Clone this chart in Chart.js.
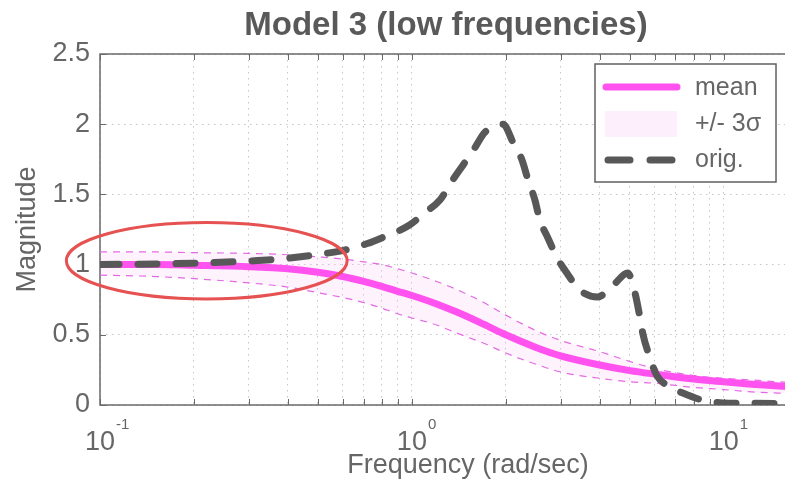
<!DOCTYPE html>
<html>
<head>
<meta charset="utf-8">
<title>Model 3 (low frequencies)</title>
<script src="https://cdn.jsdelivr.net/npm/chart.js@4.4.0/dist/chart.umd.min.js"></script>
<style>
  html, body { margin: 0; padding: 0; background: #fff; overflow: hidden; }
  #wrap { width: 892px; height: 482px; }
</style>
</head>
<body>
<div id="wrap"><canvas id="magChart" width="892" height="482"></canvas></div>
<script>
// Frequency grid for the identified model (rad/sec)
const bandFreq = [0.1, 0.15, 0.2, 0.3, 0.4, 0.5, 0.6, 0.7, 0.8, 0.9, 1.0, 1.2, 1.4, 1.7, 2.0, 2.5, 3.0, 4.0, 5.0, 6.0, 8.0, 10, 12, 15, 20, 23];
const meanMag  = [1.00, 1.00, 0.995, 0.985, 0.97, 0.945, 0.915, 0.88, 0.845, 0.81, 0.78, 0.72, 0.66, 0.575, 0.50, 0.41, 0.35, 0.285, 0.245, 0.22, 0.185, 0.165, 0.15, 0.135, 0.12, 0.115];
const upperMag = [1.09, 1.09, 1.085, 1.08, 1.07, 1.055, 1.04, 1.02, 1.0, 0.97, 0.94, 0.88, 0.82, 0.73, 0.64, 0.53, 0.46, 0.38, 0.31, 0.26, 0.21, 0.19, 0.18, 0.165, 0.15, 0.145];
const lowerMag = [0.925, 0.915, 0.90, 0.87, 0.84, 0.80, 0.765, 0.73, 0.69, 0.65, 0.62, 0.57, 0.51, 0.44, 0.37, 0.29, 0.235, 0.19, 0.165, 0.155, 0.125, 0.11, 0.095, 0.085, 0.075, 0.07];

// Original system response
const origFreq = [0.1, 0.2, 0.3, 0.38, 0.49, 0.6, 0.72, 0.8, 0.98, 1.1, 1.23, 1.34, 1.46, 1.59, 1.71, 1.85, 1.96, 2.11, 2.25, 2.36, 2.48, 2.57, 2.73, 2.92, 3.14, 3.45, 3.94, 4.41, 4.92, 5.19, 5.38, 5.5, 5.79, 6.1, 6.71, 7.39, 8.38, 9.93, 12, 23];
const origMag  = [1.0, 1.01, 1.025, 1.04, 1.07, 1.10, 1.15, 1.19, 1.28, 1.37, 1.46, 1.59, 1.71, 1.83, 1.94, 1.98, 2.0, 1.87, 1.75, 1.60, 1.46, 1.32, 1.19, 1.05, 0.94, 0.82, 0.77, 0.85, 0.94, 0.80, 0.63, 0.51, 0.34, 0.21, 0.13, 0.085, 0.04, 0.015, 0.012, 0.01];

const yTicks = [0, 0.5, 1, 1.5, 2, 2.5];
const decadeExps = [-1, 0, 1];
const legendLabels = ['mean', '+/- 3\u03c3', 'orig.'];

// low-frequency region circled on the plot (freq range, magnitude range)
const circleFreq = [0.078, 0.62];
const circleMag = [0.755, 1.30];

const FONT = "'Liberation Sans', Arial, Helvetica, sans-serif";
const TEXT = '#666666';

function pts(xs, ys) {
    return xs.map((x, i) => ({ x: x, y: ys[i] }));
}

// box around the plot area + inward tick marks
const framePlugin = {
    id: 'frame',
    beforeDatasetsDraw(chart) {
        const { ctx, chartArea: a, scales } = chart;
        ctx.save();
        ctx.strokeStyle = '#6a6a6a';
        ctx.lineWidth = 1.5;
        ctx.strokeRect(a.left, a.top, a.right - a.left, a.bottom - a.top);
        ctx.lineWidth = 1;
        ctx.beginPath();
        scales.x.ticks.forEach(t => {
            const x = Math.round(scales.x.getPixelForValue(t.value)) + 0.5;
            ctx.moveTo(x, a.bottom); ctx.lineTo(x, a.bottom - 6);
            ctx.moveTo(x, a.top); ctx.lineTo(x, a.top + 6);
        });
        yTicks.forEach(v => {
            const y = Math.round(scales.y.getPixelForValue(v)) + 0.5;
            ctx.moveTo(a.left, y); ctx.lineTo(a.left + 6, y);
            ctx.moveTo(a.right, y); ctx.lineTo(a.right - 6, y);
        });
        ctx.stroke();
        ctx.restore();
    }
};

// 10^n labels for the log axis
const decadeLabels = {
    id: 'decadeLabels',
    afterDraw(chart) {
        const { ctx, scales } = chart;
        ctx.save();
        ctx.fillStyle = TEXT;
        ctx.textBaseline = 'alphabetic';
        ctx.textAlign = 'left';
        decadeExps.forEach(e => {
            const x = scales.x.getPixelForValue(Math.pow(10, e));
            ctx.font = '27px ' + FONT;
            const w = ctx.measureText('10').width;
            ctx.fillText('10', x - w / 2, 450);
            ctx.font = '15px ' + FONT;
            ctx.fillText(String(e), x + w / 2 + 1, 429);
        });
        ctx.restore();
    }
};

// red ellipse highlighting the low-frequency match
const highlight = {
    id: 'highlight',
    afterDatasetsDraw(chart) {
        const { ctx, scales } = chart;
        const x0 = scales.x.getPixelForValue(circleFreq[0]);
        const x1 = scales.x.getPixelForValue(circleFreq[1]);
        const y0 = scales.y.getPixelForValue(circleMag[1]);
        const y1 = scales.y.getPixelForValue(circleMag[0]);
        ctx.save();
        ctx.strokeStyle = '#e65252';
        ctx.lineWidth = 3;
        ctx.beginPath();
        ctx.ellipse((x0 + x1) / 2, (y0 + y1) / 2, (x1 - x0) / 2, (y1 - y0) / 2, 0, 0, Math.PI * 2);
        ctx.stroke();
        ctx.restore();
    }
};

// boxed legend in the upper right corner of the plot
const boxLegend = {
    id: 'boxLegend',
    afterDraw(chart) {
        const { ctx, chartArea: a } = chart;
        const ds = chart.data.datasets;
        const left = a.left + 495, top = a.top + 10, w = 181, h = 118;
        ctx.save();
        ctx.fillStyle = '#ffffff';
        ctx.fillRect(left, top, w, h);
        ctx.strokeStyle = '#606060';
        ctx.lineWidth = 1.5;
        ctx.strokeRect(left, top, w, h);

        ctx.lineCap = 'round';
        ctx.lineWidth = 7;
        // mean
        ctx.strokeStyle = ds[1].borderColor;
        ctx.beginPath(); ctx.moveTo(left + 11, top + 23); ctx.lineTo(left + 82, top + 23); ctx.stroke();
        // band
        ctx.fillStyle = '#fdf0fc';
        ctx.fillRect(left + 10, top + 47, 72, 26);
        // orig: two dashes
        ctx.strokeStyle = ds[0].borderColor;
        ctx.beginPath();
        ctx.moveTo(left + 13, top + 96); ctx.lineTo(left + 35, top + 96);
        ctx.moveTo(left + 55, top + 96); ctx.lineTo(left + 77, top + 96);
        ctx.stroke();

        ctx.fillStyle = TEXT;
        ctx.font = '25px ' + FONT;
        ctx.textAlign = 'left';
        ctx.textBaseline = 'middle';
        legendLabels.forEach((t, i) => ctx.fillText(t, left + 100, top + 24 + i * 36));
        ctx.restore();
    }
};

const ctx = document.getElementById('magChart').getContext('2d');
new Chart(ctx, {
    type: 'line',
    data: {
        datasets: [
            {
                label: 'orig.',
                data: pts(origFreq, origMag),
                borderColor: '#585858',
                borderWidth: 7,
                borderDash: [19, 19],
                borderCapStyle: 'round',
                cubicInterpolationMode: 'monotone',
                pointRadius: 0,
                fill: false
            },
            {
                label: 'mean',
                data: pts(bandFreq, meanMag),
                borderColor: '#ff52ef',
                borderWidth: 7,
                cubicInterpolationMode: 'monotone',
                pointRadius: 0,
                fill: false
            },
            {
                label: '+3 sigma',
                data: pts(bandFreq, upperMag),
                borderColor: '#e36ae3',
                borderWidth: 1.2,
                borderDash: [7, 6],
                cubicInterpolationMode: 'monotone',
                pointRadius: 0,
                backgroundColor: 'rgba(248, 190, 245, 0.2)',
                fill: '+1'
            },
            {
                label: '-3 sigma',
                data: pts(bandFreq, lowerMag),
                borderColor: '#e36ae3',
                borderWidth: 1.2,
                borderDash: [7, 6],
                cubicInterpolationMode: 'monotone',
                pointRadius: 0,
                fill: false
            }
        ]
    },
    options: {
        responsive: false,
        animation: false,
        layout: { padding: 0 },
        plugins: {
            legend: { display: false },
            tooltip: { enabled: false },
            filler: { drawTime: 'beforeDatasetsDraw' },
            title: {
                display: true,
                text: 'Model 3 (low frequencies)',
                color: '#595959',
                font: { family: FONT, size: 33, weight: 'bold' },
                padding: { top: 6, bottom: 8.4 }
            }
        },
        scales: {
            x: {
                type: 'logarithmic',
                min: 0.1,
                max: 22.9,
                afterBuildTicks(scale) {
                    const t = [];
                    for (let d = 0.1; d < 100; d *= 10) {
                        for (let m = 1; m <= 9; m++) {
                            const v = +(m * d).toPrecision(3);
                            if (v >= scale.min && v <= scale.max) t.push({ value: v });
                        }
                    }
                    scale.ticks = t;
                },
                afterFit(scale) { scale.height = 77; },
                ticks: { display: false },
                grid: { color: '#c6c6c6', lineWidth: 1, drawTicks: false },
                border: { display: false, dash: [1.5, 4.5] },
                title: {
                    display: true,
                    text: 'Frequency (rad/sec)',
                    color: TEXT,
                    font: { family: FONT, size: 27 },
                    padding: { top: 0, bottom: 0 }
                }
            },
            y: {
                min: 0,
                max: 2.5,
                afterBuildTicks(scale) {
                    scale.ticks = yTicks.map(v => ({ value: v }));
                },
                afterFit(scale) { scale.width = 100; },
                ticks: {
                    color: TEXT,
                    font: { family: FONT, size: 27 },
                    padding: 10,
                    callback: v => String(v)
                },
                grid: { color: '#c6c6c6', lineWidth: 1, drawTicks: false },
                border: { display: false, dash: [1.5, 4.5] },
                title: {
                    display: true,
                    text: 'Magnitude',
                    color: TEXT,
                    font: { family: FONT, size: 27 },
                    padding: { top: 11, bottom: 0 }
                }
            },
            // empty right-hand strip so the plot area stops short of the canvas edge
            yRight: {
                position: 'right',
                display: true,
                afterFit(scale) { scale.width = 56; },
                ticks: { display: false },
                grid: { display: false, drawTicks: false },
                border: { display: false }
            }
        }
    },
    plugins: [framePlugin, highlight, boxLegend, decadeLabels]
});
</script>
</body>
</html>
